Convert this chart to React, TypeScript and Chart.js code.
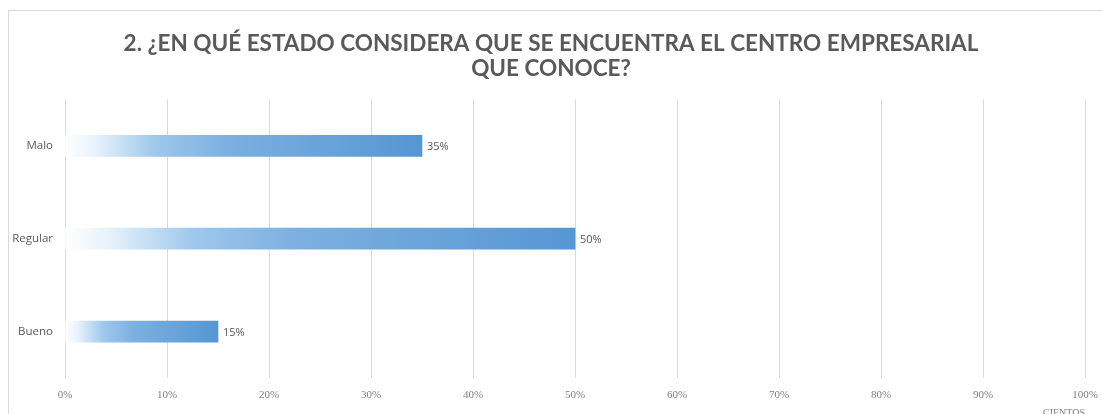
import React, { useEffect, useRef } from "react";
import { Chart, registerables } from "chart.js";

Chart.register(...registerables);

const categories = ["Malo", "Regular", "Bueno"];
const percentages = [0.35, 0.5, 0.15];
const xTicks = [0, 0.1, 0.2, 0.3, 0.4, 0.5, 0.6, 0.7, 0.8, 0.9, 1];
const titleLines = [
  "2. ¿EN QUÉ ESTADO CONSIDERA QUE SE ENCUENTRA EL CENTRO EMPRESARIAL",
  "QUE CONOCE?",
];
const axisTitle = "CIENTOS";

const pct = (v: number) => `${Math.round(v * 100)}%`;

// Horizontal white-to-blue fade per bar, spanning from the zero line to the bar tip.
function barFill(ctx: any) {
  const chart = ctx.chart;
  const area = chart.chartArea;
  if (!area) return "#5b9bd5";
  const x = chart.scales.x;
  const v = ctx.raw as number;
  const x0 = x.getPixelForValue(0);
  const x1 = x.getPixelForValue(v);
  const g = chart.ctx.createLinearGradient(x0, 0, x1, 0);
  g.addColorStop(0, "#ffffff");
  g.addColorStop(0.08, "#e9f3fc");
  g.addColorStop(0.25, "#9fc8ec");
  g.addColorStop(0.45, "#7db0e0");
  g.addColorStop(1, "#5696d3");
  return g;
}

const valueLabels = {
  id: "valueLabels",
  afterDatasetsDraw(chart: any) {
    const { ctx } = chart;
    const meta = chart.getDatasetMeta(0);
    ctx.save();
    ctx.font = "11px 'Open Sans', sans-serif";
    ctx.fillStyle = "#595959";
    ctx.textAlign = "left";
    ctx.textBaseline = "middle";
    meta.data.forEach((bar: any, i: number) => {
      ctx.fillText(pct(percentages[i]), bar.x + 5, bar.y + 1);
    });
    ctx.restore();
  },
};

export default function App() {
  const canvasRef = useRef<HTMLCanvasElement | null>(null);

  useEffect(() => {
    if (!canvasRef.current) return;
    const chart = new Chart(canvasRef.current, {
      type: "bar",
      data: {
        labels: categories,
        datasets: [
          {
            data: percentages,
            backgroundColor: barFill,
            borderWidth: 0,
            barThickness: 21,
          },
        ],
      },
      options: {
        indexAxis: "y",
        animation: false,
        responsive: false,
        maintainAspectRatio: false,
        layout: { padding: 0 },
        plugins: {
          legend: { display: false },
          tooltip: { enabled: false },
          title: {
            display: true,
            text: titleLines,
            color: "#595959",
            font: { family: "Lato, 'Open Sans', sans-serif", size: 22.5, weight: "bold", lineHeight: 1.12 },
            padding: { top: 31, bottom: 18 },
          },
        },
        scales: {
          x: {
            min: 0,
            max: 1,
            afterBuildTicks: (scale: any) => {
              scale.ticks = xTicks.map((v) => ({ value: v }));
            },
            afterFit: (scale: any) => {
              scale.height = 36;
              scale.paddingLeft = 0;
              scale.paddingRight = 17;
            },
            grid: { color: "#d9d9d9", drawTicks: false },
            border: { display: false },
            ticks: {
              color: "#7f7f7f",
              font: { family: "'Liberation Serif', serif", size: 11 },
              padding: 11,
              maxRotation: 0,
              callback: (v: any) => pct(Number(v)),
            },
            title: {
              display: true,
              text: axisTitle,
              align: "end",
              color: "#7f7f7f",
              font: { family: "'Liberation Serif', serif", size: 10 },
              padding: { top: 0, bottom: -5 },
            },
          },
          y: {
            afterFit: (scale: any) => {
              scale.width = 65;
            },
            grid: { display: false, drawTicks: false },
            border: { display: false },
            ticks: {
              color: "#595959",
              font: { family: "'Open Sans', sans-serif", size: 11.5 },
              padding: 12,
            },
          },
        },
      },
      plugins: [valueLabels],
    } as any);
    return () => chart.destroy();
  }, []);

  return (
    <div style={{ position: "absolute", left: 0, top: 0, width: 1102, height: 414, background: "#ffffff", overflow: "hidden" }}>
      <div
        style={{
          position: "absolute",
          left: 8,
          top: 10,
          right: -2,
          bottom: -2,
          borderLeft: "1px solid #d9d9d9",
          borderTop: "1px solid #d9d9d9",
        }}
      />
      <canvas ref={canvasRef} width={1102} height={414} style={{ position: "absolute", left: 0, top: 0 }} />
    </div>
  );
}
